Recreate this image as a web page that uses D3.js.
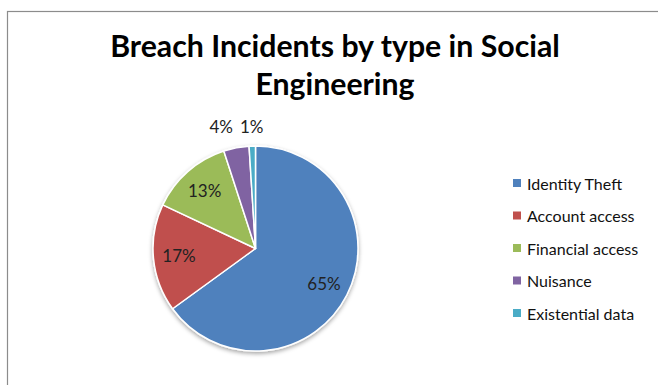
<!DOCTYPE html>
<html><head><meta charset="utf-8">
<script src="https://cdn.jsdelivr.net/npm/d3@7"></script>
<style>
html,body{margin:0;padding:0;background:#fff;overflow:hidden;}
svg{display:block;}
text{font-family:Lato,"Open Sans",sans-serif;}
</style></head>
<body>
<svg id="chart" width="658" height="385"></svg>
<script>
const titleLines = ["Breach Incidents by type in Social", "Engineering"];
const categories = ["Identity Theft", "Account access", "Financial access", "Nuisance", "Existential data"];
const values = [65, 17, 13, 4, 1];
const colors = ["#4F81BD", "#C0504D", "#9BBB59", "#8064A2", "#4BACC6"];

const W = 658, H = 385;
const svg = d3.select("#chart");

// chart border
svg.append("rect").attr("x", 7.5).attr("y", 11.5).attr("width", 700).attr("height", 500)
  .attr("fill", "#fff").attr("stroke", "#8c8c8c").attr("stroke-width", 1.2);

// title
const titleX = 335;
const tl = svg.append("g");
titleLines.forEach((t, i) => {
  tl.append("text").attr("x", titleX).attr("y", 57 + i * 38)
    .attr("text-anchor", "middle").attr("font-weight", "bold")
    .attr("font-size", 29).attr("fill", "#000").text(t);
});
const first = tl.select("text").node();
const w0 = first.getComputedTextLength();
const fs = 29 * 450 / w0;
tl.selectAll("text").attr("font-size", Math.min(fs, 32));

// pie
const cx = 255.5, cy = 248.5, r = 102.5;
const defs = svg.append("defs");
const f = defs.append("filter").attr("id", "sh").attr("x", "-20%").attr("y", "-20%").attr("width", "140%").attr("height", "140%");
f.append("feDropShadow").attr("dx", 0).attr("dy", 2).attr("stdDeviation", 2)
  .attr("flood-color", "#000").attr("flood-opacity", 0.35);

const data = categories.map((c, i) => ({cat: c, v: values[i], color: colors[i]}));
const pie = d3.pie().value(d => d.v).sort(null);
const arcs = pie(data);
const arc = d3.arc().innerRadius(0).outerRadius(r);
const g = svg.append("g").attr("transform", `translate(${cx},${cy})`);
g.append("g").attr("filter", "url(#sh)")
  .selectAll("path").data(arcs).join("path")
  .attr("d", arc).attr("fill", d => d.data.color)
  .attr("stroke", "#fff").attr("stroke-width", 1.5).attr("stroke-linejoin", "round");

const total = d3.sum(values);
const inArc = d3.arc().innerRadius(r * 0.75).outerRadius(r * 0.75);
const outArc = d3.arc().innerRadius(r + 20).outerRadius(r + 20);
const labels = arcs.map(a => {
  const frac = a.data.v / total;
  const inside = frac >= 0.08;
  const p = inside ? inArc.centroid({startAngle: a.startAngle, endAngle: a.endAngle}) :
                     outArc.centroid({startAngle: a.startAngle, endAngle: a.endAngle});
  return {txt: Math.round(frac * 100) + "%", x: p[0], y: p[1], inside};
});
const lt = g.selectAll("text.lbl").data(labels).join("text").attr("class", "lbl")
  .attr("text-anchor", "middle").attr("dominant-baseline", "central")
  .attr("font-size", 17).attr("fill", "#222")
  .text(d => d.txt);
const nodes = lt.nodes();
labels.forEach((d, i) => d.w = nodes[i].getComputedTextLength());
const outs = labels.map((d, i) => i).filter(i => !labels[i].inside);
for (let k = outs.length - 2; k >= 0; k--) {
  const a = labels[outs[k]], b = labels[outs[k + 1]];
  const minD = (a.w + b.w) / 2 + 7;
  if (b.x - a.x < minD) a.x = b.x - minD;
  a.y = b.y = Math.min(a.y, b.y);
}
lt.attr("x", d => d.x).attr("y", d => d.y);

// legend
const lg = svg.append("g").attr("transform", "translate(513,183)");
const rows = lg.selectAll("g").data(data).join("g")
  .attr("transform", (d, i) => `translate(0,${i * 32.5})`);
rows.append("rect").attr("x", 0).attr("y", -4).attr("width", 8).attr("height", 8)
  .attr("fill", d => d.color);
rows.append("text").attr("x", 14).attr("y", 0).attr("dominant-baseline", "central")
  .attr("font-size", 16).attr("fill", "#111").text(d => d.cat);
</script>
</body></html>
